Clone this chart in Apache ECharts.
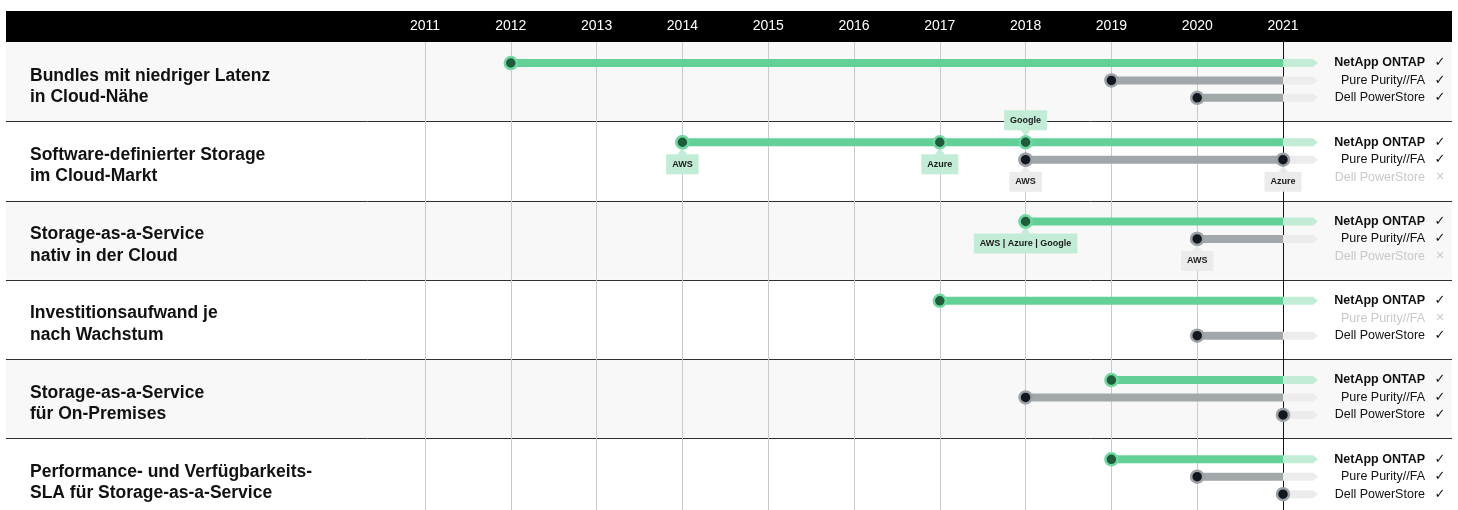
<!DOCTYPE html>
<html>
<head>
<meta charset="utf-8">
<script src="https://cdn.jsdelivr.net/npm/echarts@6/dist/echarts.min.js"></script>
<style>
html,body{margin:0;padding:0;background:#fff;}
#chart{width:1458px;height:510px;}
</style>
</head>
<body>
<div id="chart"></div>
<script>
// ---------------- DATA ----------------
const yearTicks = [2011, 2012, 2013, 2014, 2015, 2016, 2017, 2018, 2019, 2020, 2021];
const currentYear = 2021;
const categories = [
  'Bundles mit niedriger Latenz\nin Cloud-Nähe',
  'Software-definierter Storage\nim Cloud-Markt',
  'Storage-as-a-Service\nnativ in der Cloud',
  'Investitionsaufwand je\nnach Wachstum',
  'Storage-as-a-Service\nfür On-Premises',
  'Performance- und Verfügbarkeits-\nSLA für Storage-as-a-Service'
];
const products = ['NetApp ONTAP', 'Pure Purity//FA', 'Dell PowerStore'];
// first year of availability per category (null = not available)
const netappStart = [2012, 2014, 2018, 2017, 2019, 2019];
const pureStart   = [2019, 2018, 2020, null, 2018, 2020];
const dellStart   = [2020, null, null, 2020, 2021, 2021];
// labelled milestones
const milestoneRow     = [1, 1, 1, 2, 1, 1, 2];
const milestoneProduct = [0, 0, 0, 0, 1, 1, 1];
const milestoneYear    = [2014, 2017, 2018, 2018, 2018, 2021, 2020];
const milestoneLabel   = ['AWS', 'Azure', 'Google', 'AWS | Azure | Google', 'AWS', 'Azure', 'AWS'];
const milestoneSide    = ['below', 'below', 'above', 'below', 'below', 'below', 'below'];

// ---------------- STYLE / LAYOUT ----------------
const PAGE_L = 6, PAGE_R = 1452;
const VISIBLE_ROWS = 5.905;          // last row is cut by the bottom edge
const TRACK_OFFSET = [0.265, 0.485, 0.705];
const FONT = '"Liberation Sans", Arial, Helvetica, sans-serif';
const COLORS = [
  {bar:'#63d197', faded:'#c2ecd5', dot:'#1f5c3c', ring:'#72d8a1', box:'#c3ecd6'},
  {bar:'#a2a7aa', faded:'#ececec', dot:'#131820', ring:'#9ba1a5', box:'#ebebeb'},
  {bar:'#a2a7aa', faded:'#ececec', dot:'#131820', ring:'#9ba1a5', box:'#ebebeb'}
];
const starts = [netappStart, pureStart, dellStart];

const rowData = categories.map((c, i) => [i]);
const trackData = [];
categories.forEach((c, r) => {
  starts.forEach((arr, p) => {
    const s = arr[r];
    trackData.push([r, p, s == null ? currentYear : s, s == null ? 0 : 1]);
  });
});
const milestoneData = milestoneRow.map((r, i) => [r, milestoneProduct[i], milestoneYear[i]]);

function renderRow(params, api) {
  const i = api.value(0);
  const top = api.coord([yearTicks[0], i])[1];
  const bot = api.coord([yearTicks[0], i + 1])[1];
  const children = [
    {type:'rect', shape:{x:PAGE_L, y:top, width:PAGE_R - PAGE_L, height:bot - top},
     style:{fill: i % 2 === 0 ? '#f8f8f8' : '#ffffff'}},
    {type:'text', style:{text:categories[i], x:30, y:(top + bot) / 2 + 5, verticalAlign:'middle', align:'left',
      font:'bold 17.5px ' + FONT, lineHeight:21.5, fill:'#111111'}}
  ];
  if (i < categories.length - 1) {
    const yy = Math.round(bot) + 0.5;
    children.push({type:'line', shape:{x1:PAGE_L, y1:yy, x2:PAGE_R, y2:yy}, style:{stroke:'#2b3035', lineWidth:1}, z2:5});
  }
  return {type:'group', children};
}

function renderNow(params, api) {
  const x = Math.round(api.coord([api.value(0), 0])[0]) + 0.5;
  const cs = params.coordSys;
  return {type:'line', shape:{x1:x, y1:cs.y, x2:x, y2:cs.y + cs.height}, style:{stroke:'#111111', lineWidth:1}};
}

function dot(x, y, col) {
  return {type:'circle', shape:{cx:x, cy:y, r:6}, style:{fill:col.dot, stroke:col.ring, lineWidth:2.5}};
}

function renderTrack(params, api) {
  const row = api.value(0), p = api.value(1), start = api.value(2), avail = api.value(3) === 1;
  const y = api.coord([currentYear, row + TRACK_OFFSET[p]])[1];
  const xNow = api.coord([currentYear, 0])[0];
  const col = COLORS[p];
  const children = [];
  if (avail) {
    const xs = api.coord([start, 0])[0];
    children.push({type:'polygon', shape:{points:[[xNow, y - 4], [xNow + 30, y - 4], [xNow + 35, y], [xNow + 30, y + 4], [xNow, y + 4]]},
      style:{fill:col.faded}});
    if (xs < xNow) children.push({type:'rect', shape:{x:xs, y:y - 4, width:xNow - xs, height:8}, style:{fill:col.bar}});
    children.push(dot(xs, y, col));
  }
  const txtColor = avail ? '#111111' : '#c9c9c9';
  children.push({type:'text', style:{text:products[p], x:xNow + 142, y:y, align:'right', verticalAlign:'middle',
    font:(p === 0 ? 'bold ' : '') + '12.5px ' + FONT, fill:txtColor}});
  children.push({type:'text', style:{text: avail ? '✓' : '✕', x:xNow + 157, y:y, align:'center', verticalAlign:'middle',
    font:(avail ? '13px ' : '11px ') + '"DejaVu Sans", sans-serif', fill: avail ? '#111111' : '#c9c9c9'}});
  return {type:'group', children};
}

function renderMilestone(params, api) {
  const i = params.dataIndex;
  const row = api.value(0), p = api.value(1), yr = api.value(2);
  const pt = api.coord([yr, row + TRACK_OFFSET[p]]);
  const x = pt[0], y = pt[1];
  const col = COLORS[p];
  const below = milestoneSide[i] === 'below';
  const children = [];
  if (below) {
    children.push({type:'polygon', shape:{points:[[x, y + 6], [x - 5, y + 12], [x + 5, y + 12]]}, style:{fill:col.box}});
    children.push({type:'text', style:{text:milestoneLabel[i], x:x, y:y + 12, align:'center', verticalAlign:'top',
      font:'bold 9px ' + FONT, lineHeight:10, fill:'#1b1b1b', backgroundColor:col.box, padding:[5, 6]}});
  } else {
    children.push({type:'polygon', shape:{points:[[x, y - 6], [x - 5, y - 12], [x + 5, y - 12]]}, style:{fill:col.box}});
    children.push({type:'text', style:{text:milestoneLabel[i], x:x, y:y - 12, align:'center', verticalAlign:'bottom',
      font:'bold 9px ' + FONT, lineHeight:10, fill:'#1b1b1b', backgroundColor:col.box, padding:[5, 6]}});
  }
  children.push(dot(x, y, col));
  return {type:'group', children};
}

const chart = echarts.init(document.getElementById('chart'), null, {renderer:'canvas'});
chart.setOption({
  animation:false,
  backgroundColor:'#ffffff',
  graphic:{elements:[
    {type:'rect', shape:{x:PAGE_L, y:11, width:PAGE_R - PAGE_L, height:31}, style:{fill:'#000000'}, z:0}
  ]},
  grid:{left:425, right:175, top:42, bottom:0, containLabel:false},
  xAxis:{
    type:'value', position:'top', min:yearTicks[0], max:yearTicks[yearTicks.length - 1], interval:1, z:2,
    axisLine:{show:false}, axisTick:{show:false},
    axisLabel:{color:'#ffffff', fontSize:14, fontFamily:FONT, margin:9, formatter:v => String(v),
      showMinLabel:true, showMaxLabel:true},
    splitLine:{show:true, lineStyle:{color:'#c8cbce', width:1}}
  },
  yAxis:{type:'value', min:0, max:VISIBLE_ROWS, inverse:true, show:false, splitLine:{show:false}},
  series:[
    {type:'custom', name:'rows', data:rowData, renderItem:renderRow, clip:false, z:1, silent:true},
    {type:'custom', name:'now', data:[[currentYear]], renderItem:renderNow, clip:false, z:3, silent:true},
    {type:'custom', name:'tracks', data:trackData, renderItem:renderTrack, clip:false, z:4, silent:true},
    {type:'custom', name:'milestones', data:milestoneData, renderItem:renderMilestone, clip:false, z:5, silent:true}
  ]
});
</script>
</body>
</html>
